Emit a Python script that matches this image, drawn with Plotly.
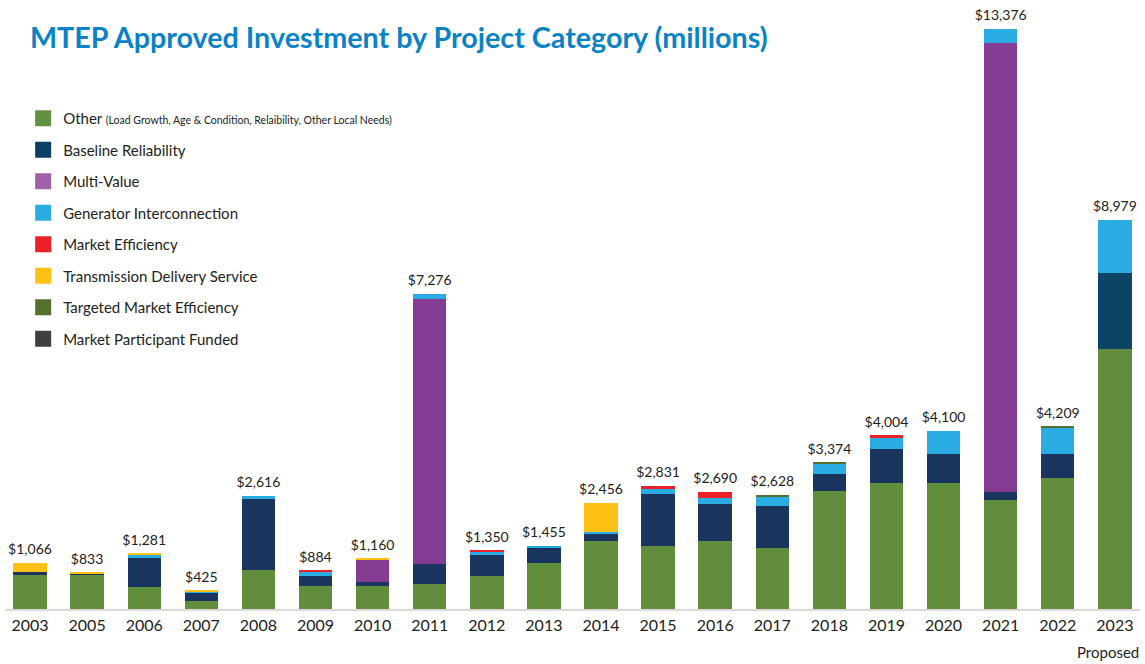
import plotly.graph_objects as go

years = ['2003', '2005', '2006', '2007', '2008', '2009', '2010', '2011', '2012', '2013',
         '2014', '2015', '2016', '2017', '2018', '2019', '2020', '2021', '2022', '2023']
totals = [1066, 833, 1281, 425, 2616, 884, 1160, 7276, 1350, 1455,
          2456, 2831, 2690, 2628, 3374, 4004, 4100, 13376, 4209, 8979]

other = [803, 795, 502, 189, 910, 524, 541, 579, 771, 1062,
         1568, 1454, 1571, 1417, 2730, 2904, 2914, 2514, 3011, 6001]
baseline = [46, 15, 682, 189, 1637, 231, 93, 470, 486, 342,
            178, 1200, 848, 964, 384, 791, 664, 183, 569, 1741]
multi_value = [0, 0, 0, 0, 0, 0, 503, 6095, 0, 0,
               0, 0, 0, 0, 0, 0, 0, 10359, 0, 0]
generator = [0, 0, 73, 31, 69, 108, 0, 132, 69, 51,
             39, 108, 139, 224, 246, 254, 522, 320, 615, 1237]
market_eff = [0, 0, 0, 0, 0, 21, 0, 0, 24, 0,
              0, 69, 132, 0, 0, 55, 0, 0, 0, 0]
tds = [217, 23, 24, 16, 0, 0, 23, 0, 0, 0,
       671, 0, 0, 0, 0, 0, 0, 0, 0, 0]
targeted_me = [0, 0, 0, 0, 0, 0, 0, 0, 0, 0,
               0, 0, 0, 23, 14, 0, 0, 0, 14, 0]
participant = [0] * 20

series = [
    ("Other <span style='font-size:10.5px'>(Load Growth, Age &amp; Condition, Relaibility, Other Local Needs)</span>",
     other, '#618d3c'),
    ('Baseline Reliability', baseline, '#1b365e'),
    ('Multi-Value', multi_value, '#843b92'),
    ('Generator Interconnection', generator, '#2aace3'),
    ('Market Efficiency', market_eff, '#ec2128'),
    ('Transmission Delivery Service', tds, '#fdc014'),
    ('Targeted Market Efficiency', targeted_me, '#54702f'),
    ('Market Participant Funded', participant, '#404040'),
]
legend_colors = ['#629140', '#0b3f63', '#9e5fab', '#2aace3', '#ec2128', '#fdc014', '#54702f', '#404040']

fig = go.Figure()

for (name, vals, color) in series:
    colors = color
    if name == 'Baseline Reliability':
        # the proposed year is drawn in a slightly different navy
        colors = [color] * 19 + ['#0c4466']
    fig.add_trace(go.Bar(
        x=years, y=vals, name=name, showlegend=False,
        marker=dict(color=colors, line=dict(width=0)),
    ))

# legend-only entries so the swatches can be large squares
for (name, vals, color), lc in zip(series, legend_colors):
    fig.add_trace(go.Scatter(
        x=[None], y=[None], mode='markers', name=name,
        marker=dict(symbol='square', size=16, color=lc),
        legendgroup=name,
    ))

# totals above the bars (invisible marker pushes the text up a bit)
fig.add_trace(go.Scatter(
    x=years, y=totals, mode='markers+text',
    marker=dict(size=7, color='rgba(0,0,0,0)'),
    text=['${:,}'.format(t) for t in totals],
    textposition='top center',
    textfont=dict(family='Lato', size=14, color='#222222'),
    showlegend=False, hoverinfo='skip', cliponaxis=False,
))

fig.add_annotation(
    text='Proposed', x=1.0, xref='paper', xanchor='right', xshift=1,
    y=-0.0706, yref='paper', yanchor='middle', showarrow=False,
    font=dict(family='Lato', size=15, color='#222222'),
)

fig.update_layout(
    width=1145, height=664,
    barmode='stack', bargap=0.415,
    paper_bgcolor='white', plot_bgcolor='white',
    margin=dict(l=5, r=5, t=0, b=55),
    font=dict(family='Lato', color='#222222'),
    title=dict(
        text='<b>MTEP Approved Investment by Project Category (millions)</b>',
        x=0.0262, xanchor='left', y=0.9428, yanchor='middle',
        font=dict(family='Lato', size=28.7, color='#0a83c6'),
    ),
    legend=dict(
        x=0.016, xanchor='left', y=0.8325, yanchor='top',
        font=dict(family='Lato', size=15, color='#222222'),
        tracegroupgap=9, itemsizing='trace',
        bgcolor='rgba(0,0,0,0)',
    ),
    xaxis=dict(
        range=[-0.438, 19.44],
        showline=True, linecolor='#d9d9d9', linewidth=2,
        showgrid=False, ticks='', ticklabelstandoff=1,
        tickfont=dict(family='Lato', size=16, color='#222222'),
    ),
    yaxis=dict(range=[0, 14045], visible=False, showgrid=False),
)

# drop the default 8px body margin so the figure fills the window
fig.write_html("out.html", config={'displayModeBar': False},
               post_script="document.body.style.margin='0px';")
